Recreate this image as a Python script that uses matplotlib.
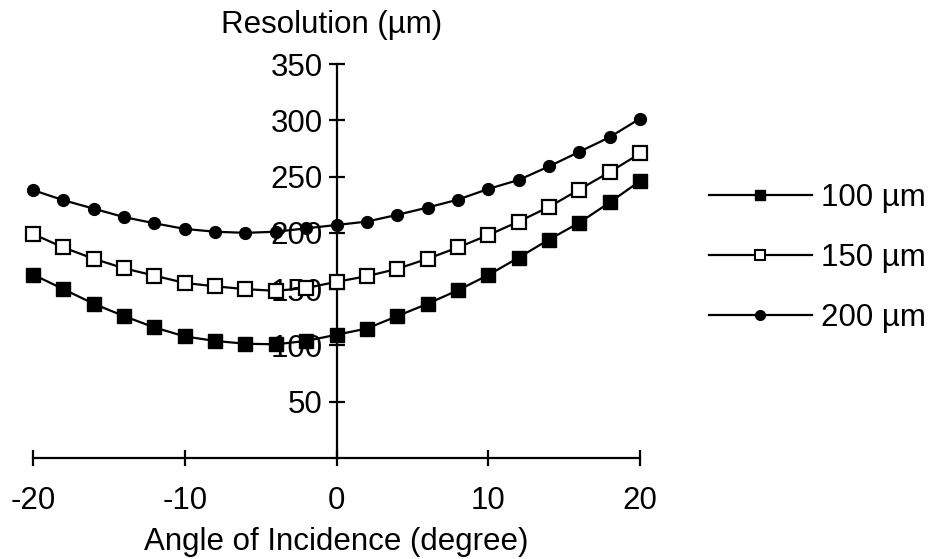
import matplotlib
matplotlib.use("Agg")
import matplotlib.pyplot as plt
from matplotlib.lines import Line2D

plt.rcParams['font.family'] = ['Liberation Sans', 'DejaVu Sans']

# Angle of incidence (degree)
angles = [-20, -18, -16, -14, -12, -10, -8, -6, -4, -2, 0,
          2, 4, 6, 8, 10, 12, 14, 16, 18, 20]
# Resolution (um) for each pixel size
res_100 = [163, 150, 137, 126, 116, 108, 104, 101.5, 101, 104, 109.5,
           115, 126, 137, 149, 162.5, 178, 194, 209, 227, 246]
res_150 = [199, 187, 177, 168.5, 162, 155.5, 152.5, 150, 148.5, 151, 156.5,
           161.5, 168, 177, 187, 198, 210, 223, 238.5, 254, 270.5]
res_200 = [238, 229, 221.5, 214, 208.5, 203.5, 201, 200, 201, 204, 207,
           210, 216, 222.5, 229.5, 239, 247, 259, 272, 285, 301.5]
labels = ['100 µm', '150 µm', '200 µm']
xticks = [-20, -10, 0, 10, 20]
yticks = [50, 100, 150, 200, 250, 300, 350]

W, H = 932, 559
fig = plt.figure(figsize=(W / 100, H / 100), dpi=100)
ax = fig.add_axes([33 / W, 1 - 458 / H, 607 / W, 394 / H])

lw = 1.6
ax.plot(angles, res_100, color='black', lw=lw, marker='s', ms=9.5,
        mfc='black', mec='black', clip_on=False, zorder=3)
ax.plot(angles, res_150, color='black', lw=lw, marker='s', ms=9.5,
        mfc='white', mec='black', mew=1.6, clip_on=False, zorder=3)
ax.plot(angles, res_200, color='black', lw=lw, marker='o', ms=8.5,
        mfc='black', mec='black', clip_on=False, zorder=3)

ax.set_xlim(-20, 20)
ax.set_ylim(0, 350)

# axes cross at the origin
ax.spines['left'].set_position(('data', 0))
ax.spines['bottom'].set_position(('data', 0))
ax.spines['top'].set_visible(False)
ax.spines['right'].set_visible(False)
for s in ('left', 'bottom'):
    ax.spines[s].set_linewidth(1.6)
    ax.spines[s].set_zorder(1)

fs = 22.5
ax.set_xticks(xticks)
ax.set_xticklabels([str(v) for v in xticks])
ax.set_yticks(yticks)
ax.set_yticklabels([str(v) for v in yticks])
ax.tick_params(axis='both', direction='inout', length=12, width=1.6,
               labelsize=fs)
ax.tick_params(axis='y', pad=4)
ax.tick_params(axis='x', pad=14)
for lab in ax.get_yticklabels():
    lab.set_zorder(0)

fig.text(332 / W, 1 - 25 / H, 'Resolution (µm)', ha='center', va='center',
         fontsize=fs)
fig.text(336 / W, 1 - 542 / H, 'Angle of Incidence (degree)', ha='center',
         va='center', fontsize=fs)

handles = [
    Line2D([], [], color='black', lw=lw, marker='s', ms=7, mfc='black'),
    Line2D([], [], color='black', lw=lw, marker='s', ms=7, mfc='white', mew=1.5),
    Line2D([], [], color='black', lw=lw, marker='o', ms=7, mfc='black'),
]
fig.legend(handles, labels, loc='center left',
           bbox_to_anchor=(696 / W, 1 - 258 / H), frameon=False,
           fontsize=fs, handlelength=3.3, handletextpad=0.3,
           labelspacing=0.95, borderaxespad=0)

fig.savefig('out.png', dpi=100)
